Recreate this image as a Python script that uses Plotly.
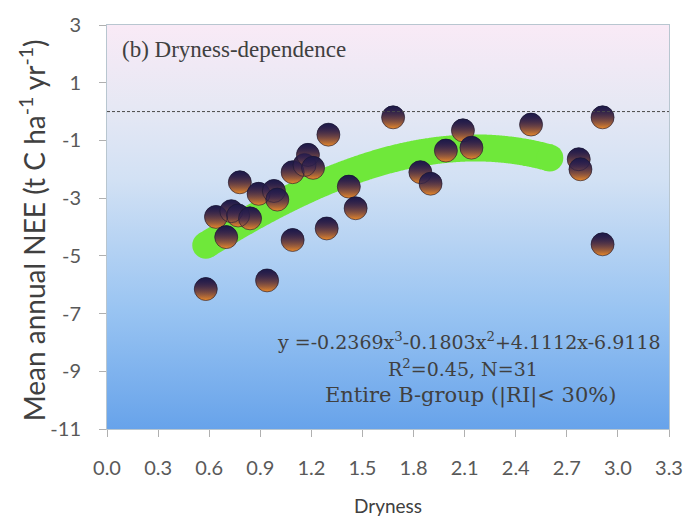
import numpy as np
import plotly.graph_objects as go

# ---- data ----
dryness = [0.58, 0.64, 0.70, 0.73, 0.77, 0.78, 0.84, 0.89, 0.94, 0.98, 1.00,
           1.09, 1.09, 1.16, 1.18, 1.21, 1.29, 1.30, 1.42, 1.46, 1.68, 1.84,
           1.90, 1.99, 2.09, 2.14, 2.49, 2.77, 2.78, 2.91, 2.91]
nee = [-6.15, -3.65, -4.35, -3.45, -3.6, -2.45, -3.7, -2.85, -5.85, -2.75, -3.05,
       -2.1, -4.45, -1.85, -1.5, -1.95, -4.05, -0.8, -2.6, -3.35, -0.2, -2.1,
       -2.5, -1.35, -0.65, -1.25, -0.45, -1.65, -2.0, -0.2, -4.6]

# cubic fit shown in the chart
fit_coef = [-0.2369, -0.1803, 4.1112, -6.9118]
fit_range = [0.58, 2.60]
zero_line = 0

x_ticks = [0.0, 0.3, 0.6, 0.9, 1.2, 1.5, 1.8, 2.1, 2.4, 2.7, 3.0, 3.3]
y_ticks = [-11, -9, -7, -5, -3, -1, 1, 3]

x_range = [0.0, 3.3]
y_range = [-11, 3]

fit_x = np.linspace(fit_range[0], fit_range[1], 200)
fit_y = np.polyval(fit_coef, fit_x)

fig = go.Figure()

# gradient plot background
fig.add_trace(go.Scatter(
    x=[x_range[0], x_range[1], x_range[1], x_range[0], x_range[0]],
    y=[y_range[0], y_range[0], y_range[1], y_range[1], y_range[0]],
    mode="none", fill="toself",
    fillgradient=dict(type="vertical", start=y_range[0], stop=y_range[1],
                      colorscale=[[0, "#66a2ea"], [0.3, "#99c4f2"],
                                  [0.62, "#d2e1f4"], [0.8, "#e6e8f4"],
                                  [1, "#f9eaf6"]]),
    hoverinfo="skip", showlegend=False))

# fitted curve: thick green band with round ends
band_color = "#6fe83a"
band_w = 27
fig.add_trace(go.Scatter(x=fit_x, y=fit_y, mode="lines",
                         line=dict(color=band_color, width=band_w,
                                   simplify=False, shape="spline"),
                         hoverinfo="skip", showlegend=False))
fig.add_trace(go.Scatter(x=[fit_x[0], fit_x[-1]], y=[fit_y[0], fit_y[-1]],
                         mode="markers",
                         marker=dict(color=band_color, size=band_w, line=dict(width=0)),
                         hoverinfo="skip", showlegend=False))

# data points (spheres): dark top -> orange bottom, plus a dark fading overlay
dark = "#1d1a48"
fig.add_trace(go.Scatter(
    x=dryness, y=nee, mode="markers",
    marker=dict(size=23, color=dark,
                gradient=dict(type="vertical", color="#ea8a2a"),
                line=dict(width=0)),
    hoverinfo="skip", showlegend=False))
fig.add_trace(go.Scatter(
    x=dryness, y=nee, mode="markers",
    marker=dict(size=23, color=dark,
                gradient=dict(type="vertical", color="rgba(70,38,92,0)"),
                line=dict(color="#171530", width=0.6)),
    showlegend=False))

fig.add_shape(type="line", xref="paper", x0=0, x1=1, yref="y",
              y0=zero_line, y1=zero_line,
              line=dict(color="#4a4a4a", width=1, dash="3px,2px"))

txt = "#404040"
sans = "Lato"

fig.add_annotation(text="(b) Dryness-dependence", xref="paper", yref="paper",
                   x=(120 - 107) / 568, y=(429 - 47) / 407, xanchor="left",
                   yanchor="middle", showarrow=False,
                   font=dict(family="Liberation Serif", size=23, color=txt))
fig.add_annotation(text="y =-0.2369x<sup>3</sup>-0.1803x<sup>2</sup>+4.1112x-6.9118",
                   xref="paper", yref="paper",
                   x=(473 - 107) / 568, y=(429 - 340) / 407, xanchor="center",
                   yanchor="middle", showarrow=False,
                   font=dict(family="DejaVu Serif", size=19, color=txt))
fig.add_annotation(text="R<sup>2</sup>=0.45, N=31",
                   xref="paper", yref="paper",
                   x=(467 - 107) / 568, y=(429 - 368) / 407, xanchor="center",
                   yanchor="middle", showarrow=False,
                   font=dict(family="DejaVu Serif", size=19, color=txt))
fig.add_annotation(text="Entire B-group (|RI|< 30%)",
                   xref="paper", yref="paper",
                   x=(474 - 107) / 568, y=(429 - 395) / 407, xanchor="center",
                   yanchor="middle", showarrow=False,
                   font=dict(family="DejaVu Serif", size=21, color=txt))

# axis titles
fig.add_annotation(text="Mean annual NEE (t C ha<sup>-1</sup> yr<sup>-1</sup>)",
                   xref="paper", yref="paper", x=(32 - 107) / 568,
                   y=(429 - 229) / 407, xanchor="center", yanchor="middle",
                   textangle=-90, showarrow=False,
                   font=dict(family=sans, size=28, color=txt))
fig.add_annotation(text="Dryness", xref="paper", yref="paper",
                   x=(391 - 107) / 568, y=(429 - 506) / 407,
                   xanchor="center", yanchor="middle", showarrow=False,
                   font=dict(family=sans, size=19, color=txt))

axis_common = dict(showgrid=False, zeroline=False, showline=True,
                   linecolor="#b8c6d0", linewidth=1, mirror=True,
                   ticks="outside", ticklen=7, tickcolor="#b0b0b0",
                   tickfont=dict(family=sans, size=20, color="#595959"))

fig.update_xaxes(range=x_range, tickvals=x_ticks,
                 ticktext=[f"{v:.1f}" for v in x_ticks],
                 ticklabelstandoff=14, **axis_common)
fig.update_yaxes(range=y_range, tickvals=y_ticks,
                 ticktext=[str(v) for v in y_ticks],
                 ticklabelstandoff=14, **axis_common)

fig.update_layout(width=695, height=524,
                  margin=dict(l=107, r=20, t=22, b=95),
                  paper_bgcolor="white", plot_bgcolor="white",
                  showlegend=False)

fig.write_html("out.html")
